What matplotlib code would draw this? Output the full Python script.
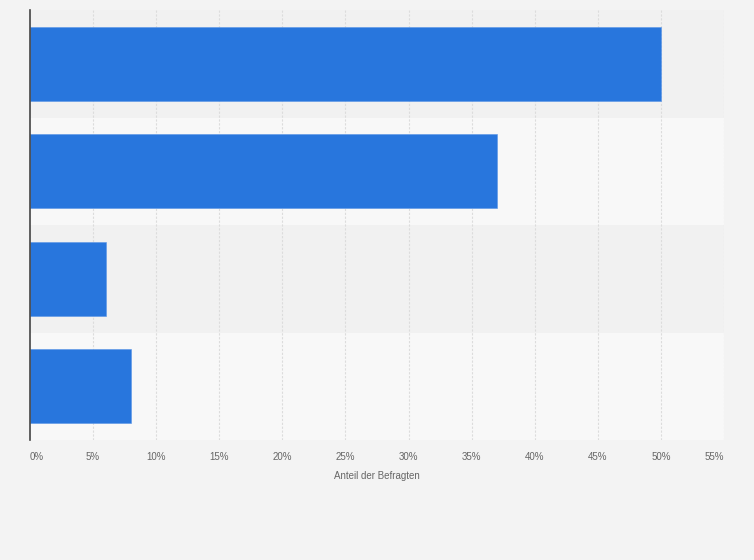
import matplotlib.pyplot as plt

plt.rcParams['font.family'] = ['Liberation Sans', 'DejaVu Sans']

# values (share of respondents, %)
categories = ['A', 'B', 'C', 'D']
values = [50, 37, 6, 8]
xticks = [0, 5, 10, 15, 20, 25, 30, 35, 40, 45, 50, 55]
xtick_labels = ['{}%'.format(t) for t in xticks]

bar_color = '#2876dd'
bg_color = '#f3f3f3'
band_colors = ['#f1f1f1', '#f8f8f8']

fig = plt.figure(figsize=(7.54, 5.6), dpi=100)
fig.patch.set_facecolor(bg_color)
ax = fig.add_axes([30 / 754, 1 - 440 / 560, 694 / 754, 430 / 560])
ax.set_facecolor(bg_color)

n = len(categories)
ypos = list(range(n))

# alternating bands behind the bars
for i in ypos:
    ax.axhspan(i - 0.5, i + 0.5, color=band_colors[i % 2], zorder=0, lw=0)

ax.barh(ypos, values, height=0.69, color=bar_color, edgecolor='#5a95e6',
        linewidth=0.4, zorder=3)

ax.set_xlim(0, 55)
ax.set_ylim(n - 0.5, -0.5)

ax.set_xticks(xticks)
ax.set_xticklabels(xtick_labels, fontsize=7, color='#666666')
labels = ax.get_xticklabels()
labels[0].set_horizontalalignment('left')
labels[-1].set_horizontalalignment('right')
ax.tick_params(axis='x', length=0, pad=9)
ax.set_yticks([])

for t in xticks[1:]:
    ax.axvline(t, color='#dcdcdc', lw=0.8, ls=(0, (2, 1.5)), zorder=1)

for s in ['top', 'right', 'bottom']:
    ax.spines[s].set_visible(False)
ax.spines['left'].set_color('#444444')
ax.spines['left'].set_linewidth(1.2)
ax.spines['left'].set_zorder(4)

ax.set_xlabel('Anteil der Befragten', fontsize=7, color='#666666', labelpad=6)

fig.savefig('out.png', dpi=100, facecolor=bg_color)
